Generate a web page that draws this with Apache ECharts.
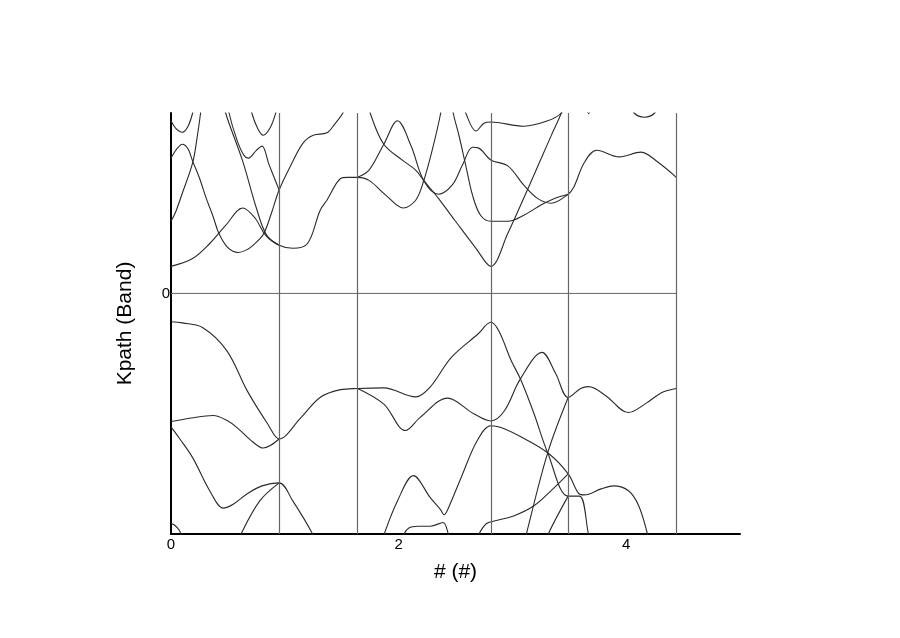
<!DOCTYPE html>
<html>
<head>
<meta charset="utf-8">
<script src="https://cdn.jsdelivr.net/npm/echarts@6/dist/echarts.min.js"></script>
<style>
  html, body { margin: 0; padding: 0; background: #fff; }
  #chart { width: 900px; height: 638px; }
</style>
</head>
<body>
<div id="chart"></div>
<script>
// k-path break points (high symmetry points)
const kPoints = [0, 0.95, 1.64, 2.81, 3.49, 4.44];
const fermi = [[0, 0], [4.44, 0]];

// conduction bands
const condA = [[0,2.87],[0.04,2.75],[0.10,2.68],[0.15,2.78],[0.19,3.0],[0.22,3.3]];
const condB = [[0,2.25],[0.05,2.40],[0.10,2.48],[0.15,2.40],[0.19,2.20],[0.25,1.92],[0.31,1.58],[0.37,1.28],[0.42,1.00],[0.50,0.76],[0.59,0.68],[0.66,0.72],[0.72,0.80],[0.81,0.98],[0.88,1.32],[0.95,1.72],[1.05,2.12],[1.16,2.50],[1.25,2.63],[1.37,2.67],[1.44,2.82],[1.51,3.0],[1.54,3.2]];
const condC = [[0,1.20],[0.04,1.35],[0.10,1.67],[0.19,2.17],[0.23,2.60],[0.26,3.0],[0.27,3.2]];
const condD = [[0,0.45],[0.19,0.58],[0.34,0.83],[0.48,1.13],[0.63,1.42],[0.74,1.25],[0.83,0.97],[0.95,0.80],[1.07,0.75],[1.20,0.83],[1.31,1.38],[1.37,1.55],[1.49,1.91],[1.55,1.93],[1.64,1.93],[1.74,1.88],[1.89,1.63],[2.04,1.42],[2.15,1.55],[2.22,1.87],[2.30,2.42],[2.37,3.0],[2.39,3.3]];
const condE = [[0.45,3.3],[0.48,3.0],[0.63,2.2],[0.75,1.42],[0.84,0.97],[0.95,0.80]];
const condF = [[0.49,3.3],[0.51,3.0],[0.58,2.55],[0.64,2.30],[0.68,2.25],[0.75,2.38],[0.80,2.45],[0.86,2.15],[0.95,1.72]];
const condG = [[0.69,3.2],[0.71,3.0],[0.76,2.75],[0.81,2.63],[0.87,2.75],[0.92,3.0],[0.94,3.2]];
const condH = [[1.64,1.93],[1.74,2.05],[1.87,2.48],[1.99,2.87],[2.11,2.45],[2.22,1.88],[2.35,1.65],[2.47,1.80],[2.56,2.13],[2.65,2.43],[2.70,2.42],[2.81,2.22],[2.96,2.12],[3.10,1.80],[3.22,1.58],[3.34,1.50],[3.49,1.65],[3.54,1.77],[3.63,2.17],[3.74,2.38],[3.94,2.27],[4.13,2.35],[4.28,2.18],[4.44,1.93]];
const condI = [[1.72,3.3],[1.75,3.0],[1.87,2.48],[2.03,2.22],[2.15,2.05],[2.22,1.88],[2.35,1.58],[2.50,1.20],[2.68,0.75],[2.81,0.45],[2.96,1.00],[3.15,1.80],[3.34,2.62],[3.43,3.0],[3.46,3.2]];
const condJ = [[2.46,3.3],[2.48,3.0],[2.53,2.63],[2.59,2.13],[2.65,1.63],[2.72,1.30],[2.81,1.20],[2.96,1.20],[3.10,1.30],[3.25,1.47],[3.37,1.58],[3.49,1.65]];
const condK = [[2.54,3.3],[2.59,3.0],[2.68,2.70],[2.75,2.83],[2.81,2.85],[3.10,2.78],[3.31,2.87],[3.43,3.0],[3.47,3.2]];
const condL = [[3.64,3.15],[3.67,2.99],[3.70,3.15]];
const condM = [[4.05,3.15],[4.07,3.0],[4.16,2.93],[4.25,3.0],[4.27,3.15]];

// valence bands
const valA = [[0,-0.47],[0.10,-0.49],[0.28,-0.57],[0.49,-0.95],[0.67,-1.62],[0.85,-2.17],[0.95,-2.42],[1.14,-2.07],[1.31,-1.73],[1.49,-1.60],[1.64,-1.58],[1.87,-1.57],[2.15,-1.72],[2.28,-1.55],[2.46,-1.07],[2.70,-0.67],[2.81,-0.48],[2.88,-0.62],[2.99,-1.12],[3.07,-1.42],[3.19,-2.00],[3.31,-2.65],[3.49,-3.37],[3.59,-3.37],[3.67,-4.02],[3.69,-4.2]];
const valB = [[0,-2.13],[0.18,-2.07],[0.37,-2.03],[0.50,-2.12],[0.58,-2.23],[0.72,-2.47],[0.81,-2.57],[0.95,-2.42]];
const valC = [[1.64,-1.58],[1.87,-1.84],[2.06,-2.28],[2.19,-2.06],[2.43,-1.74],[2.66,-2.00],[2.81,-2.12],[2.93,-1.95],[3.07,-1.42],[3.26,-0.98],[3.38,-1.33],[3.49,-1.73],[3.60,-1.58],[3.67,-1.55],[3.82,-1.70],[4.02,-1.98],[4.18,-1.82],[4.31,-1.65],[4.44,-1.58]];
const valD = [[0,-2.22],[0.07,-2.40],[0.19,-2.73],[0.34,-3.28],[0.46,-3.57],[0.55,-3.50],[0.67,-3.33],[0.80,-3.20],[0.95,-3.15],[1.07,-3.45],[1.25,-4.02],[1.28,-4.2]];
const valE = [[0.58,-4.2],[0.61,-4.02],[0.78,-3.45],[0.95,-3.15]];
const valF = [[0,-3.82],[0.03,-3.85],[0.07,-3.93],[0.09,-4.02],[0.11,-4.2]];
const valG = [[1.85,-4.2],[1.87,-4.02],[1.99,-3.45],[2.13,-3.03],[2.28,-3.40],[2.37,-3.60],[2.40,-3.68],[2.43,-3.60],[2.55,-3.06],[2.69,-2.45],[2.81,-2.20],[2.90,-2.23],[3.07,-2.38],[3.31,-2.65],[3.49,-3.00],[3.58,-3.32],[3.63,-3.35],[3.78,-3.25],[3.89,-3.20],[4.02,-3.28],[4.11,-3.53],[4.19,-4.02],[4.21,-4.2]];
const valH = [[2.02,-4.1],[2.04,-4.02],[2.09,-3.90],[2.17,-3.87],[2.28,-3.87],[2.39,-3.81],[2.44,-4.02],[2.45,-4.1]];
const valI = [[2.69,-4.1],[2.70,-4.02],[2.77,-3.83],[2.85,-3.78],[3.01,-3.70],[3.19,-3.53],[3.34,-3.28],[3.49,-3.00]];
const valJ = [[3.10,-4.2],[3.12,-4.02],[3.31,-2.65],[3.49,-1.73]];
const valK = [[3.29,-4.2],[3.31,-4.02],[3.49,-3.37]];

const bands = [condA, condB, condC, condD, condE, condF, condG, condH, condI, condJ, condK, condL, condM,
               valA, valB, valC, valD, valE, valF, valG, valH, valI, valJ, valK];

const font = 'Liberation Sans, Arial, sans-serif';
const chart = echarts.init(document.getElementById('chart'));

const series = bands.map(b => ({
  type: 'line',
  data: b,
  smooth: 0.35,
  showSymbol: false,
  silent: true,
  clip: true,
  lineStyle: { color: '#2a2a2a', width: 1.1 }
}));

// fermi level + vertical k-point lines
series.push({
  type: 'line',
  data: fermi,
  showSymbol: false,
  silent: true,
  lineStyle: { color: '#666', width: 1 },
  markLine: {
    silent: true,
    symbol: 'none',
    label: { show: false },
    lineStyle: { color: '#666', width: 1.2, type: 'solid' },
    data: kPoints.slice(1).map(k => ({ xAxis: k }))
  }
});

chart.setOption({
  animation: false,
  backgroundColor: '#fff',
  grid: { left: 171, right: 160, top: 113, bottom: 104 },
  xAxis: {
    type: 'value',
    min: 0,
    max: 5,
    interval: 2,
    name: '# (#)',
    nameLocation: 'middle',
    nameGap: 28,
    nameTextStyle: { fontSize: 21, color: '#000', fontFamily: font },
    axisLine: { onZero: false, lineStyle: { color: '#000', width: 2 } },
    axisTick: { show: false },
    axisLabel: { fontSize: 15, color: '#000', fontFamily: font, margin: 3, showMaxLabel: false },
    splitLine: { show: false }
  },
  yAxis: {
    type: 'value',
    min: -4,
    max: 3,
    interval: 1,
    name: 'Kpath (Band)',
    nameLocation: 'middle',
    nameGap: 35,
    nameTextStyle: { fontSize: 21, color: '#000', fontFamily: font },
    axisLine: { show: true, onZero: false, lineStyle: { color: '#000', width: 2 } },
    axisTick: { show: false },
    axisLabel: {
      fontSize: 15, color: '#000', fontFamily: font, margin: 1,
      formatter: v => (v === 0 ? '0' : '')
    },
    splitLine: { show: false }
  },
  series: series
});
</script>
</body>
</html>
